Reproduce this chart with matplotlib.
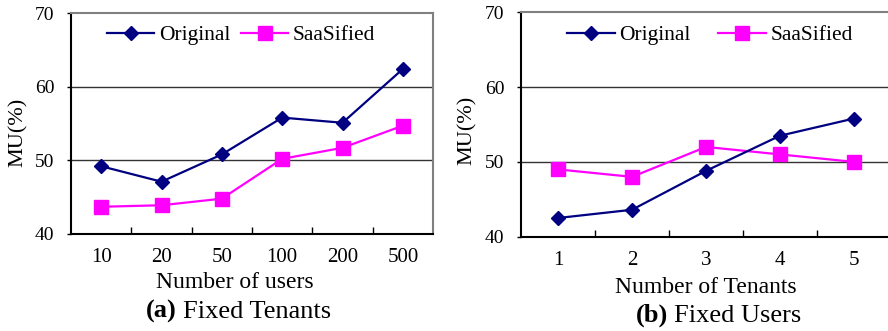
import numpy as np
import matplotlib
matplotlib.use("Agg")
import matplotlib.pyplot as plt

plt.rcParams['font.family'] = ['Liberation Serif', 'DejaVu Serif']

# (a) fixed tenants
users = ['10', '20', '50', '100', '200', '500']
orig_a = [49.2, 47.1, 50.8, 55.8, 55.1, 62.4]
saas_a = [43.7, 43.9, 44.8, 50.2, 51.7, 54.7]

# (b) fixed users
tenants = ['1', '2', '3', '4', '5']
orig_b = [42.5, 43.6, 48.8, 53.5, 55.8]
saas_b = [49.0, 48.0, 52.0, 51.0, 50.0]

y_ticks = [40, 50, 60, 70]

W, H = 888, 331
fig = plt.figure(figsize=(W / 100, H / 100), dpi=100)


def px(x, y):
    # pixel coords (from top-left) to figure fraction
    return x / W, 1 - y / H


def setup(ax, cats, orig, saas, leg_xy, colsp):
    x = np.arange(len(cats))
    ax.plot(x, orig, color='#000080', lw=1.6, marker='D', ms=7.5,
            label='Original', zorder=4)
    ax.plot(x, saas, color='#FF00FF', lw=1.6, marker='s', ms=9.5,
            label='SaaSified', zorder=3)
    ax.set_xlim(-0.5, len(cats) - 0.5)
    ax.set_ylim(40, 70)
    ax.set_yticks(y_ticks)
    ax.set_yticklabels([str(v) for v in y_ticks], fontsize=14)
    for v in y_ticks[1:-1]:
        ax.axhline(v, color='#333333', lw=1.0, zorder=1)
    ax.set_xticks(x)
    ax.set_xticklabels(cats, fontsize=15)
    ax.set_xticks(x[:-1] + 0.5, minor=True)
    ax.tick_params(axis='x', which='major', length=0, pad=10)
    ax.tick_params(axis='x', which='minor', direction='in', length=5, width=1)
    ax.tick_params(axis='y', direction='out', length=3, width=1, pad=9)
    for s in ['top', 'right']:
        ax.spines[s].set_color('#808080')
        ax.spines[s].set_linewidth(1.5)
    for s in ['left', 'bottom']:
        ax.spines[s].set_color('black')
        ax.spines[s].set_linewidth(1.5)
    ax.legend(loc='center', bbox_to_anchor=px(*leg_xy),
              bbox_transform=fig.transFigure, ncol=2, frameon=False,
              fontsize=15.5, numpoints=1, handlelength=2.2,
              handletextpad=0.2, columnspacing=colsp, borderpad=0)


ax1 = fig.add_axes([71 / W, 1 - 234 / H, 362 / W, 221 / H])
setup(ax1, users, orig_a, saas_a, (241, 35), 0.5)

ax2 = fig.add_axes([521 / W, 1 - 236.7 / H, 370 / W, 224.4 / H])
setup(ax2, tenants, orig_b, saas_b, (710, 35), 1.3)

# axis labels
fig.text(*px(18, 132), 'MU(%)', rotation=90, ha='center', va='center', fontsize=16)
fig.text(*px(467, 130), 'MU(%)', rotation=90, ha='center', va='center', fontsize=16)
fig.text(*px(235, 288), 'Number of users', ha='center', va='baseline', fontsize=17)
fig.text(*px(706, 293), 'Number of Tenants', ha='center', va='baseline', fontsize=17)

# subtitles
fig.text(*px(177, 318), '(a)', ha='right', va='baseline', fontsize=19, fontweight='bold')
fig.text(*px(183, 318), 'Fixed Tenants', ha='left', va='baseline', fontsize=19)
fig.text(*px(668, 322), '(b)', ha='right', va='baseline', fontsize=19, fontweight='bold')
fig.text(*px(674, 322), 'Fixed Users', ha='left', va='baseline', fontsize=19)

fig.savefig('out.png', dpi=100)
